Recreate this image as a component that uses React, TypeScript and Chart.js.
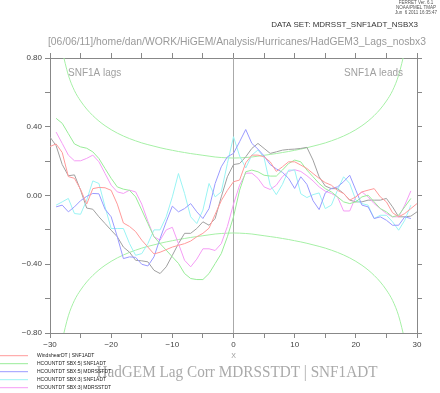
import React, { useEffect, useRef } from 'react';
import { Chart, registerables } from 'chart.js';

Chart.register(...registerables);

const lags = [-30, -29, -28, -27, -26, -25, -24, -23, -22, -21, -20, -19, -18, -17, -16, -15, -14, -13, -12, -11, -10, -9, -8, -7, -6, -5, -4, -3, -2, -1, 0, 1, 2, 3, 4, 5, 6, 7, 8, 9, 10, 11, 12, 13, 14, 15, 16, 17, 18, 19, 20, 21, 22, 23, 24, 25, 26, 27, 28, 29, 30];

const windshearSnf = [0.285, 0.30, 0.25, 0.11, 0.10, 0.035, -0.05, 0.04, 0.047, 0.045,
  0.03, -0.05, -0.16, -0.18, -0.21, -0.26, -0.30, -0.34, -0.33, -0.315,
  -0.30, -0.29, -0.28, -0.265, -0.24, -0.22, -0.19, -0.11, -0.03, 0.03,
  0.08, 0.09, 0.19, 0.235, 0.235, 0.225, 0.196, 0.14, 0.167, 0.196,
  0.196, 0.177, 0.157, 0.128, 0.10, 0.075, 0.06, 0.03, 0.012, -0.027,
  -0.008, 0.021, 0.031, 0.04, -0.008, -0.037, -0.10, -0.124, -0.105, -0.076, -0.047];

const hcount5Snf = [null, 0.449, 0.42, 0.36, 0.30, 0.283, 0.275, 0.254, 0.215, 0.157,
  0.10, 0.05, 0.037, 0.03, -0.008, -0.085, -0.163, -0.24, -0.28, -0.318,
  -0.357, -0.395, -0.454, -0.483, -0.489, -0.489, -0.454, -0.396, -0.338, -0.24,
  -0.124, 0.031, 0.138, 0.148, 0.138, 0.118, 0.113, 0.113, 0.148, 0.186,
  0.206, 0.196, 0.148, 0.109, 0.07, 0.04, 0.021, -0.008, -0.037, -0.047,
  -0.037, -0.008, 0.002, -0.037, -0.076, -0.095, -0.124, -0.115, -0.066, -0.017, null];

const hcount5Mdr = [null, -0.066, -0.056, -0.095, -0.066, -0.03, -0.005, 0.012, 0.01, -0.08,
  -0.124, -0.24, -0.367, -0.357, -0.36, -0.40, -0.41, -0.357, -0.25, -0.153,
  -0.062, -0.095, -0.076, -0.047, -0.095, -0.134, -0.076, 0.07, 0.167, 0.225,
  0.245, 0.313, 0.384, 0.303, 0.27, 0.23, 0.18, 0.155, 0.135, 0.10,
  0.041, 0.109, 0.065, -0.03, -0.082, 0.015, 0.041, 0.05, 0.08, 0.118,
  0.031, -0.056, -0.066, -0.134, -0.124, -0.144, -0.173, -0.173, -0.124, -0.134, null];

const hcount3Snf = [null, -0.056, -0.037, -0.017, -0.105, -0.109, -0.027, 0.085, 0.07, -0.066,
  -0.192, -0.192, -0.192, -0.28, -0.348, -0.338, -0.28, -0.20, -0.20, -0.124,
  -0.008, 0.128, 0.012, -0.124, -0.163, -0.085, 0.07, -0.008, 0.021, 0.186,
  0.342, 0.23, 0.16, 0.235, 0.265, 0.22, 0.06, 0.005, 0.065, 0.148,
  0.148, 0.01, -0.012, 0.005, 0.015, -0.076, -0.056, 0.031, 0.109, 0.07,
  -0.027, -0.047, -0.056, -0.134, -0.115, -0.115, -0.153, -0.202, -0.144, -0.056, null];

const hcount3Mdr = [null, 0.369, 0.303, 0.235, 0.202, 0.202, 0.216, 0.235, 0.196, 0.128,
  0.06, 0.021, 0.012, 0.031, 0.021, -0.05, -0.15, -0.24, -0.26, -0.20,
  -0.185, -0.28, -0.377, -0.415, -0.37, -0.31, -0.31, -0.32, -0.28, -0.18,
  -0.05, 0.06, 0.13, 0.13, 0.10, 0.05, 0.035, 0.06, 0.11, 0.14,
  0.15, 0.14, 0.115, 0.085, 0.05, 0.025, 0.012, -0.008, -0.09, -0.09,
  -0.008, 0.021, -0.008, -0.047, -0.076, -0.105, -0.124, -0.124, -0.056, 0.027, null];

const windshearMdr = [0.34, 0.29, 0.18, 0.115, 0.12, 0.031, -0.073, -0.08, -0.124, -0.163,
  -0.202, -0.24, -0.30, -0.33, -0.377, -0.38, -0.386, -0.435, -0.454, -0.415,
  -0.348, -0.28, -0.22, -0.22, -0.192, -0.153, -0.173, -0.134, -0.008, 0.109,
  0.18, 0.186, 0.225, 0.274, 0.303, 0.274, 0.245, 0.254, 0.264, 0.268,
  0.27, 0.274, 0.28, 0.206, 0.109, 0.055, 0.04, 0.04, 0.012, -0.027,
  -0.037, -0.037, -0.027, -0.027, -0.027, -0.017, -0.066, -0.124, -0.124, -0.12, -0.095];

const sigLags = [-28, -27, -26, -25, -24, -23, -22, -21, -20, -19, -18, -17, -16, -15, -14, -13, -12, -11, -10, -9, -8, -7, -6, -5, -4, -3, -2, -1, 0, 1, 2, 3, 4, 5, 6, 7, 8, 9, 10, 11, 12, 13, 14, 15, 16, 17, 18, 19, 20, 21, 22, 23, 24, 25, 26, 27, 28];

const sigUpper = [0.84, 0.70, 0.61, 0.55, 0.503, 0.465, 0.433, 0.406, 0.383, 0.363,
  0.346, 0.331, 0.318, 0.306, 0.296, 0.287, 0.278, 0.27, 0.263, 0.256,
  0.25, 0.244, 0.239, 0.234, 0.229, 0.224, 0.221, 0.219, 0.218, 0.219,
  0.221, 0.224, 0.229, 0.234, 0.239, 0.244, 0.25, 0.256, 0.263, 0.27,
  0.278, 0.287, 0.296, 0.306, 0.318, 0.331, 0.346, 0.363, 0.383, 0.406,
  0.433, 0.465, 0.503, 0.55, 0.61, 0.70, 0.84];

const sigLower = [-0.84, -0.70, -0.61, -0.55, -0.503, -0.465, -0.433, -0.406, -0.383, -0.363,
  -0.346, -0.331, -0.318, -0.306, -0.296, -0.287, -0.278, -0.27, -0.263, -0.256,
  -0.25, -0.244, -0.239, -0.234, -0.229, -0.224, -0.221, -0.219, -0.218, -0.219,
  -0.221, -0.224, -0.229, -0.234, -0.239, -0.244, -0.25, -0.256, -0.263, -0.27,
  -0.278, -0.287, -0.296, -0.306, -0.318, -0.331, -0.346, -0.363, -0.383, -0.406,
  -0.433, -0.465, -0.503, -0.55, -0.61, -0.70, -0.84];

const zeroLineX = [0, 0];
const zeroLineY = [-0.8, 0.8];

const seriesLabels = [
  'WindshearDT | SNF1ADT',
  'HCOUNTDT SBX:5| SNF1ADT',
  'HCOUNTDT SBX:5| MDRSSTDT',
  'HCOUNTDT SBX:3| SNF1ADT',
  'HCOUNTDT SBX:3| MDRSSTDT',
  'WindshearDT | MDRSSTDT',
];
const seriesColors = ['#ff9a9a', '#98ec98', '#9a9aff', '#9af4f4', '#f59cf5', '#a0a0a0'];
const seriesValues = [windshearSnf, hcount5Snf, hcount5Mdr, hcount3Snf, hcount3Mdr, windshearMdr];
const legendCount = 5;

const title = 'HadGEM Lag Corr MDRSSTDT | SNF1ADT';
const dataSetLine = 'DATA SET: MDRSST_SNF1ADT_NSBX3';
const pathLine = '[06/06/11]/home/dan/WORK/HiGEM/Analysis/Hurricanes/HadGEM3_Lags_nosbx3';
const ferretLines = ['FERRET Ver. 6.1', 'NOAA/PMEL TMAP', 'Jun  6 2011 16:35:47'];
const lagsNote = 'SNF1A lags';
const leadsNote = 'SNF1A leads';

const fmtNum = (v: number, d: number) => {
  if (Math.abs(v) < 1e-9) return (0).toFixed(d);
  return (v < 0 ? '\u2212' : '') + Math.abs(v).toFixed(d);
};

const textPlugin = {
  id: 'ferretText',
  afterDraw(chart: any) {
    const ctx = chart.ctx;
    const area = chart.chartArea;
    ctx.save();
    ctx.fillStyle = '#555';
    ctx.font = '4.5px "Liberation Sans"';
    ctx.textAlign = 'center';
    ctx.textBaseline = 'middle';
    ferretLines.forEach((t, i) => ctx.fillText(t, 416, 3 + i * 5));
    ctx.fillStyle = '#333';
    ctx.font = '8px "Liberation Sans"';
    ctx.textAlign = 'right';
    ctx.fillText(dataSetLine, 418, 25, 152);
    ctx.fillStyle = '#9a9a9a';
    ctx.font = '11px "Liberation Sans"';
    ctx.textAlign = 'left';
    ctx.fillText(pathLine, 48, 42, 378);
    ctx.fillStyle = '#a0a0a0';
    ctx.font = '10px "Liberation Sans"';
    ctx.textAlign = 'left';
    ctx.fillText(lagsNote, area.left + 18, area.top + 15.5, 57);
    ctx.textAlign = 'right';
    ctx.fillText(leadsNote, area.right - 14, area.top + 15.5, 63);
    ctx.fillStyle = '#aaaaaa';
    ctx.font = '17px "Liberation Serif"';
    ctx.textAlign = 'center';
    ctx.fillText(title, 237, 373, 281);
    ctx.font = '5px "Liberation Sans"';
    ctx.textAlign = 'left';
    for (let i = 0; i < legendCount; i++) {
      const y = 355.7 + i * 8;
      ctx.strokeStyle = seriesColors[i];
      ctx.lineWidth = 1;
      ctx.beginPath();
      ctx.moveTo(0, y);
      ctx.lineTo(28, y);
      ctx.stroke();
      ctx.fillStyle = '#222';
      ctx.fillText(seriesLabels[i], 37, y);
    }
    ctx.restore();
  },
};

export default function App() {
  const ref = useRef<HTMLCanvasElement | null>(null);
  useEffect(() => {
    if (!ref.current) return;
    const datasets: any[] = seriesValues.map((vals, i) => ({
      label: seriesLabels[i],
      data: lags.map((x, j) => ({ x, y: vals[j] })),
      borderColor: seriesColors[i],
      borderWidth: 1,
      pointRadius: 0,
      fill: false,
      spanGaps: false,
    }));
    datasets.push({
      label: 'sig+',
      data: sigLags.map((x, j) => ({ x, y: sigUpper[j] })),
      borderColor: '#a6f0a6',
      borderWidth: 1,
      pointRadius: 0,
      fill: false,
      cubicInterpolationMode: 'monotone',
    });
    datasets.push({
      label: 'sig-',
      data: sigLags.map((x, j) => ({ x, y: sigLower[j] })),
      borderColor: '#a6f0a6',
      borderWidth: 1,
      pointRadius: 0,
      fill: false,
      cubicInterpolationMode: 'monotone',
    });
    datasets.push({
      label: 'zero',
      data: zeroLineX.map((x, j) => ({ x, y: zeroLineY[j] })),
      borderColor: '#aaaaaa',
      borderWidth: 1,
      pointRadius: 0,
      fill: false,
    });

    const axisColor = '#888888';
    const chart = new Chart(ref.current, {
      type: 'line',
      data: { datasets },
      options: {
        responsive: false,
        devicePixelRatio: 1,
        animation: false,
        events: [],
        layout: { padding: 0 },
        plugins: { legend: { display: false }, tooltip: { enabled: false } },
        elements: { line: { tension: 0 } },
        scales: {
          x: {
            type: 'linear',
            position: 'bottom',
            min: -30,
            max: 30,
            afterFit: (s: any) => { s.height = 60; },
            ticks: {
              stepSize: 5,
              autoSkip: false,
              maxRotation: 0,
              padding: 2,
              color: '#444',
              font: { size: 8, family: 'Liberation Sans' },
              callback: (v: any) => (Math.round(v) % 10 === 0 ? fmtNum(Number(v), 0) : ''),
            },
            grid: { drawOnChartArea: false, drawTicks: true, tickLength: 5, color: axisColor },
            border: { display: true, color: axisColor },
            title: {
              display: true,
              text: 'X',
              color: '#999',
              font: { size: 7, family: 'Liberation Sans' },
              padding: { top: 0, bottom: 33 },
            },
          },
          x2: {
            type: 'linear',
            position: 'top',
            min: -30,
            max: 30,
            afterFit: (s: any) => { s.height = 58; },
            ticks: { stepSize: 5, display: false, autoSkip: false },
            grid: { drawOnChartArea: false, drawTicks: true, tickLength: 5, color: axisColor },
            border: { display: true, color: axisColor },
          },
          y: {
            type: 'linear',
            position: 'left',
            min: -0.8,
            max: 0.8,
            afterFit: (s: any) => { s.width = 50; },
            ticks: {
              stepSize: 0.2,
              autoSkip: false,
              padding: 3,
              color: '#444',
              font: { size: 8, family: 'Liberation Sans' },
              callback: (v: any) => (Math.round(Number(v) * 10) % 4 === 0 ? fmtNum(Number(v), 2) : ''),
            },
            grid: { drawOnChartArea: false, drawTicks: true, tickLength: 5, color: axisColor },
            border: { display: true, color: axisColor },
          },
          y2: {
            type: 'linear',
            position: 'right',
            min: -0.8,
            max: 0.8,
            afterFit: (s: any) => { s.width = 23; },
            ticks: { stepSize: 0.2, display: false, autoSkip: false },
            grid: { drawOnChartArea: false, drawTicks: true, tickLength: 5, color: axisColor },
            border: { display: true, color: axisColor },
          },
        },
      },
      plugins: [textPlugin],
    } as any);
    return () => chart.destroy();
  }, []);

  return (
    <div style={{ position: 'absolute', left: 0, top: 0, width: 440, height: 393, background: '#fff' }}>
      <canvas ref={ref} width={440} height={393} style={{ display: 'block' }} />
    </div>
  );
}
